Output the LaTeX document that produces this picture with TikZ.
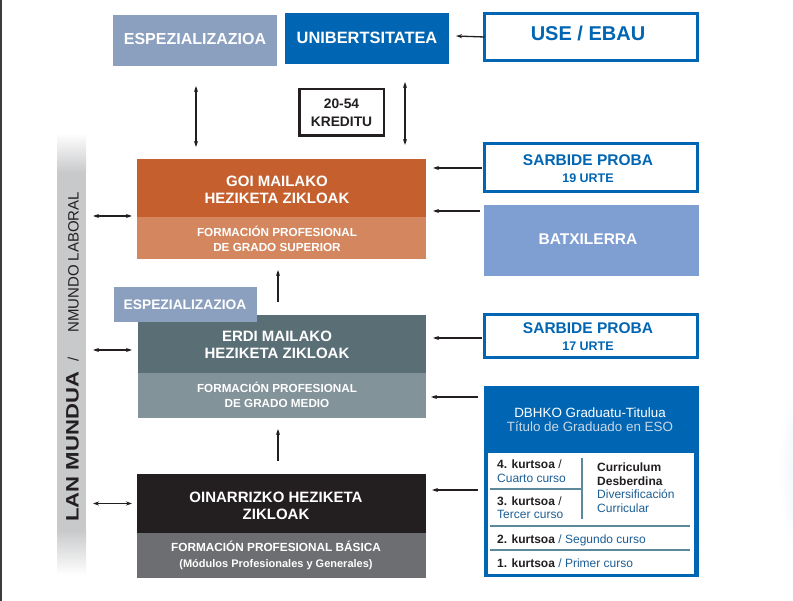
\documentclass[tikz,border=0pt]{standalone}
\usepackage{fontspec}
\setmainfont{Liberation Sans}
\usetikzlibrary{arrows.meta,calc}
\definecolor{espc}{HTML}{8B9FBE}
\definecolor{blu}{HTML}{0066B3}
\definecolor{goid}{HTML}{C5602E}
\definecolor{goil}{HTML}{D4875F}
\definecolor{batc}{HTML}{7F9ED2}
\definecolor{erdd}{HTML}{5A6E75}
\definecolor{erdl}{HTML}{83939A}
\definecolor{oind}{HTML}{231F20}
\definecolor{oinl}{HTML}{6D6E71}
\definecolor{ink}{HTML}{231F20}
\definecolor{barg}{HTML}{C8C9CB}
\definecolor{edge}{HTML}{3A3D40}
\definecolor{titc}{HTML}{C9D6E6}
\definecolor{pblue}{HTML}{1C5E95}
\definecolor{pline}{HTML}{5C8A9C}
\definecolor{glow}{HTML}{E4F1FB}
\tikzset{
 fbox/.style={inner sep=0pt, outer sep=0pt},
 wbox/.style={fbox, draw=blu, line width=3pt, fill=white},
 arr/.style={draw=ink, line width=1.3pt, -{Stealth[length=6pt,width=4pt]}},
 darr/.style={draw=ink, line width=1.3pt, {Stealth[length=6pt,width=4pt]}-{Stealth[length=6pt,width=4pt]}},
 big/.style={inner sep=0pt, font=\fontsize{15}{17}\selectfont\bfseries, text=white, align=center},
 sml/.style={inner sep=0pt, font=\fontsize{11.7}{15}\selectfont\bfseries, text=white, align=center},
 ptxt/.style={anchor=base west, inner sep=0pt, font=\fontsize{12}{14}\selectfont, text=ink},
 vtxt/.style={rotate=90, anchor=base west, inner sep=0pt, text=ink},
}
\begin{document}
\begin{tikzpicture}[x=1pt,y=-1pt]
\useasboundingbox (0,0) rectangle (793,601);
\fill[white] (0,0) rectangle (793,601);
% left edge line
\fill[edge] (0,0) rectangle (2,601);
% right glow
\shade[inner color=glow, outer color=white] (808,470) ellipse (30pt and 100pt);

% gray side bar
\node[fbox, minimum width=29pt, minimum height=442pt] (bar) at (71.5,354) {};
\shade[top color=white, bottom color=barg] (bar.north west) rectangle ($(bar.north east)+(0,40)$);
\fill[barg] ($(bar.north west)+(0,40)$) rectangle ($(bar.south east)+(0,-45)$);
\shade[top color=barg, bottom color=white] ($(bar.south west)+(0,-45)$) rectangle (bar.south east);
\node[vtxt, font=\fontsize{18}{18}\selectfont\bfseries] (lan) at (78.5,522) {\scalebox{1.23}[1]{LAN MUNDUA}};
\node[vtxt, font=\fontsize{15}{15}\selectfont] (slash) at (78.5,362) {/};
\node[vtxt, font=\fontsize{15}{15}\selectfont] (mundo) at (78.5,333) {NMUNDO LABORAL};

% top row
\node[fbox, fill=espc, minimum width=164pt, minimum height=51pt] (espT) at (195,40.5) {};
\node[big, font=\fontsize{16}{17}\selectfont\bfseries] (espTt) at (195,38.5) {ESPEZIALIZAZIOA};
\node[fbox, fill=blu, minimum width=164pt, minimum height=51pt] (unib) at (367,38.5) {};
\node[big, font=\fontsize{16.4}{17}\selectfont\bfseries] (unibt) at (367,37.5) {UNIBERTSITATEA};
\node[wbox, minimum width=213pt, minimum height=47pt] (use) at (591,37) {};
\node[inner sep=0pt, font=\fontsize{20}{22}\selectfont\bfseries, text=blu] (uset) at (588,33.5) {USE / EBAU};
\node[fbox, draw=ink, line width=2.5pt, fill=white, minimum width=84.5pt, minimum height=46.5pt] (kred) at (341.5,112.5) {};
\node[inner sep=0pt, font=\fontsize{13.8}{18}\selectfont\bfseries, text=ink, align=center] (kredt) at (341.5,112.5) {20-54\\KREDITU};

% GOI
\node[fbox, fill=goid, minimum width=289pt, minimum height=58pt] (goiT) at (281.5,188) {};
\node[fbox, fill=goil, minimum width=289pt, minimum height=42pt] (goiB) at (281.5,238) {};
\node[big] (goiTt) at (277,189.5) {GOI MAILAKO\\HEZIKETA ZIKLOAK};
\node[sml] (goiBt) at (277,238.5) {FORMACIÓN PROFESIONAL\\DE GRADO SUPERIOR};

\node[wbox, minimum width=213pt, minimum height=48pt] (s19) at (591,167.5) {};
\node[inner sep=0pt, font=\fontsize{15.5}{17}\selectfont\bfseries, text=blu, align=center] (s19t) at (588,169) {SARBIDE PROBA\\\fontsize{12.5}{15}\selectfont 19 URTE};
\node[fbox, fill=batc, minimum width=215pt, minimum height=71pt] (batx) at (591.5,240.5) {};
\node[big, font=\fontsize{15.5}{17}\selectfont\bfseries] (batxt) at (588,239.5) {BATXILERRA};

% ERDI
\node[fbox, fill=erdd, minimum width=288pt, minimum height=58pt] (erdiT) at (282,344) {};
\node[fbox, fill=erdl, minimum width=288pt, minimum height=45pt] (erdiB) at (282,395.5) {};
\node[big] (erdiTt) at (277,345) {ERDI MAILAKO\\HEZIKETA ZIKLOAK};
\node[sml] (erdiBt) at (277,395) {FORMACIÓN PROFESIONAL\\DE GRADO MEDIO};
\node[fbox, fill=espc, minimum width=143pt, minimum height=35pt] (espS) at (185.5,304.5) {};
\node[inner sep=0pt, font=\fontsize{13.8}{16}\selectfont\bfseries, text=white] (espSt) at (185,304.5) {ESPEZIALIZAZIOA};

\node[wbox, minimum width=213pt, minimum height=43pt] (s17) at (591,336) {};
\node[inner sep=0pt, font=\fontsize{15.5}{17}\selectfont\bfseries, text=blu, align=center] (s17t) at (588,337) {SARBIDE PROBA\\\fontsize{12.5}{15}\selectfont 17 URTE};

% DBHKO
\node[fbox, fill=blu, minimum width=215pt, minimum height=191pt] (dbh) at (591.5,481.5) {};
\node[inner sep=0pt, anchor=base, font=\fontsize{13.4}{15}\selectfont, text=white] (dbht1) at (590,418) {DBHKO Graduatu-Titulua};
\node[inner sep=0pt, anchor=base, font=\fontsize{13.4}{15}\selectfont, text=titc] (dbht2) at (590,431.5) {Título de Graduado en ESO};
\node[fbox, fill=white, minimum width=206pt, minimum height=121pt] (panel) at (591,513.5) {};
\draw[pline, line width=1.5pt] ($(panel.north west)+(94,5)$) -- ($(panel.north west)+(94,66)$);
\draw[pline, line width=1.2pt] ($(panel.north west)+(2,36)$) -- ($(panel.north west)+(94,36)$);
\draw[pline, line width=1.2pt] ($(panel.north west)+(2,73)$) -- ($(panel.north east)+(-4,73)$);
\draw[pline, line width=1.2pt] ($(panel.north west)+(2,97)$) -- ($(panel.north east)+(-4,97)$);
\node[ptxt] (k4) at (497,469) {\textbf{4. kurtsoa} /};
\node[ptxt, text=pblue] (k4e) at (497,483) {Cuarto curso};
\node[ptxt] (k3) at (497,506) {\textbf{3. kurtsoa} /};
\node[ptxt, text=pblue] (k3e) at (497,518.5) {Tercer curso};
\node[ptxt] (cd1) at (597,472) {\textbf{Curriculum}};
\node[ptxt] (cd2) at (597,485.5) {\textbf{Desberdina}};
\node[ptxt, text=pblue] (cd3) at (597,499) {Diversificación};
\node[ptxt, text=pblue] (cd4) at (597,513) {Curricular};
\node[ptxt] (k2) at (497,543.5) {\textbf{2. kurtsoa} \textcolor{pblue}{/ Segundo curso}};
\node[ptxt] (k1) at (497,567.5) {\textbf{1. kurtsoa} \textcolor{pblue}{/ Primer curso}};

% OINARRIZKO
\node[fbox, fill=oind, minimum width=289pt, minimum height=59pt] (oinT) at (281.5,503.5) {};
\node[fbox, fill=oinl, minimum width=289pt, minimum height=45pt] (oinB) at (281.5,555.5) {};
\node[big] (oinTt) at (276,505.5) {OINARRIZKO HEZIKETA\\ZIKLOAK};
\node[sml, font=\fontsize{11.8}{16}\selectfont\bfseries] (oinBt) at (276,555) {FORMACIÓN PROFESIONAL BÁSICA\\\fontsize{11}{16}\selectfont(Módulos Profesionales y Generales)};

% connectors
\draw[arr] (use.west) -- ($(use.west -| unib.east)+(7,-1)$);
\draw[darr] ($(espT.south)+(1,20)$) -- ($(espT.south |- goiT.north)+(1,-12)$);
\draw[darr] ($(unib.south)+(38,18)$) -- ($(unib.south |- goiT.north)+(38,-14)$);
\draw[arr] ($(s19.west)+(-3,0.5)$) -- ($(s19.west -| goiT.east)+(7,0.5)$);
\draw[arr] ($(batx.north west)+(-4,6)$) -- ($(batx.north west -| goiT.east)+(7,6)$);
\draw[darr] ($(bar.east |- goiT.south west)+(7,-1)$) -- ($(goiT.south west)+(-5,-1)$);
\draw[arr] ($(erdiT.north)+(-4,-13)$) -- ($(goiB.south)+(-3.5,11)$);
\draw[arr] ($(s17.west)+(-3,2)$) -- ($(s17.west -| erdiT.east)+(7,2)$);
\draw[arr] ($(dbh.north west)+(-6,11)$) -- ($(dbh.north west -| erdiB.east)+(5,11)$);
\draw[darr] ($(bar.east |- erdiT.west)+(7,6)$) -- ($(erdiT.west)+(-6,6)$);
\draw[arr] ($(oinT.north)+(-3.5,-13)$) -- ($(erdiB.south)+(-4,11)$);
\draw[arr] ($(dbh.west)+(-6,8.5)$) -- ($(dbh.west -| oinT.east)+(6,8.5)$);
\draw[darr] ($(bar.east |- oinT.west)+(7,0)$) -- ($(oinT.west)+(-5,0)$);
\end{tikzpicture}
\end{document}
